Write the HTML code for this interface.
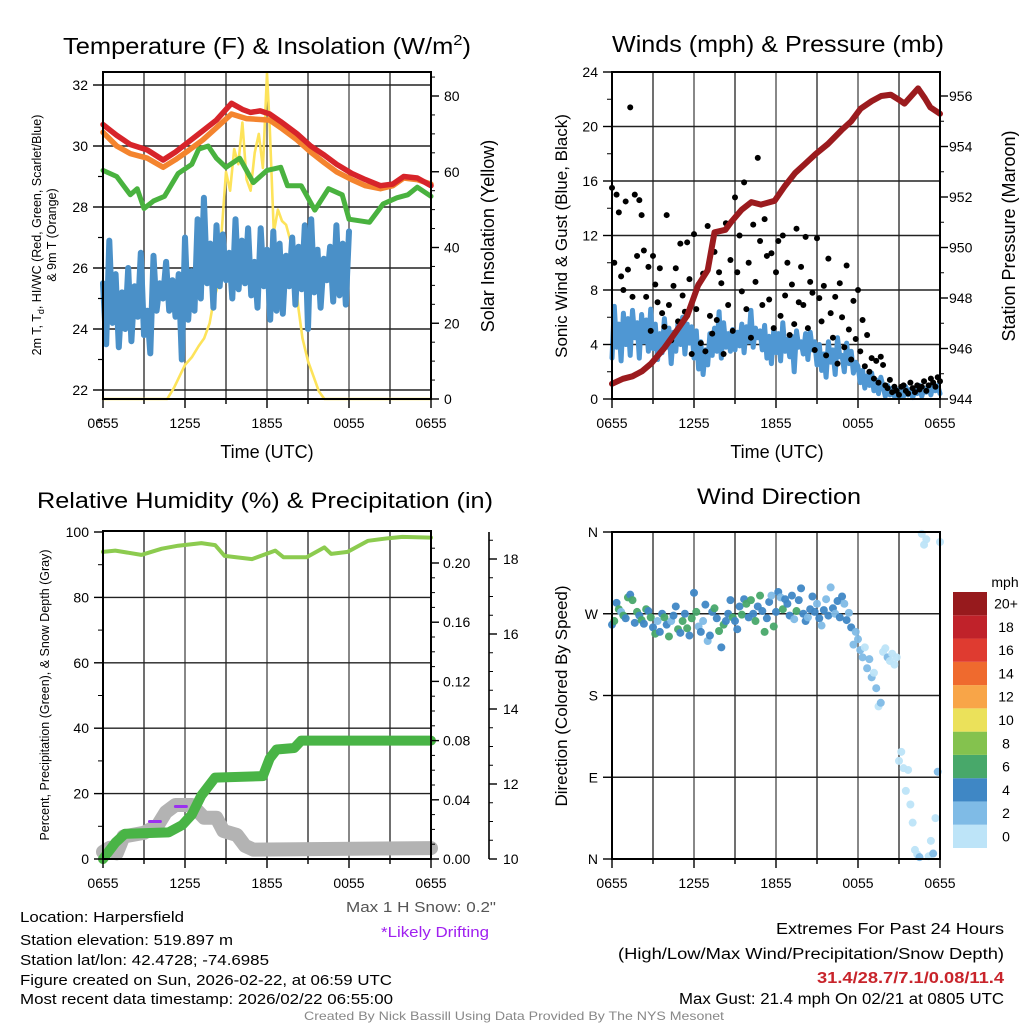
<!DOCTYPE html>
<html><head><meta charset="utf-8"><style>
html,body{margin:0;padding:0;background:#fff;}
svg{display:block;font-family:"Liberation Sans",sans-serif;}
</style></head><body>
<svg id="fig" width="1024" height="1024" viewBox="0 0 1024 1024" xmlns="http://www.w3.org/2000/svg">
<g id="layer"></g>
</svg>
<script>
// ---------- DATA ----------
const xTickLabels = ["0655","1255","1855","0055","0655"];
const tempTickLabels = ["22","24","26","28","30","32"];
const tempTickValues = [22,24,26,28,30,32];
const insolTickValues = [0,20,40,60,80];
const windTickValues = [0,4,8,12,16,20,24];
const presTickValues = [944,946,948,950,952,954,956];
const rhTickValues = [0,20,40,60,80,100];
const precipTickValues = [0,0.04,0.08,0.12,0.16,0.20];
const precipTickLabels = ["0.00","0.04","0.08","0.12","0.16","0.20"];
const snowTickValues = [10,12,14,16,18];
const dirTickLabels = ["N","E","S","W","N"];
const dirTickValues = [0,90,180,270,360];
const speedBinLabels = ["0","2","4","6","8","10","12","14","16","18","20+"];
const speedBinColors = ["#bde4f8","#7fbbe6","#3f87c5","#48a86a","#84c24e","#ebe15a","#f8a548","#ef6a2e","#df3b30","#c0222a","#971a1d"];

const redTimes = [0,1,2,3.25,4.4,5.3,6.25,7.3,8.3,9.4,10.2,10.8,11.5,12.2,13,14.2,15.2,16.2,17.1,18.2,19.2,20.3,21.2,22,23,24];
const redTemp = [30.7,30.35,30.05,29.87,29.54,29.8,30.13,30.5,30.85,31.4,31.2,31.1,31.15,31.05,30.8,30.4,30.0,29.7,29.4,29.1,28.9,28.7,28.75,29.0,28.95,28.7];
const orangeTimes = [0,1,2,3.25,4.4,5.3,6.25,7.3,8.3,9.4,10.5,12.2,13,14.2,15.2,16.2,17.1,18.2,19.2,20.3,21.2,22,23,24];
const orangeTemp = [30.45,30.0,29.75,29.6,29.3,29.55,29.85,30.2,30.6,31.05,30.9,30.85,30.6,30.2,29.8,29.45,29.15,28.9,28.7,28.6,28.7,28.95,28.9,28.75];
const greenTimes = [0,1,2,2.5,3,3.7,4.5,5.5,6.5,7,7.7,8.3,9,10,11,12,13,13.5,14.5,15.5,16.5,17.5,18,19.5,20.5,21.5,22.3,23,24];
const greenTemp = [29.2,29.0,28.4,28.6,27.95,28.2,28.35,29.1,29.4,29.9,30.0,29.6,29.3,29.6,28.8,29.2,29.3,28.7,28.7,27.9,28.6,28.4,27.6,27.5,28.1,28.3,28.4,28.65,28.35];
const blueTemp = [25.5,23.5,26.9,24.2,25.8,23.4,25.2,24.0,26.0,23.6,25.4,24.4,26.5,23.8,24.6,23.2,
 26.4,24.6,25.5,25.0,26.2,24.6,25.6,24.4,
 25.8,23.0,27.0,24.3,25.9,24.6,27.6,25.0,28.3,25.5,26.8,24.7,
 27.4,25.4,27.1,25.6,26.5,25.0,27.6,25.3,26.9,25.5,27.3,25.1,
 26.2,24.7,27.3,25.4,26.6,24.3,27.2,24.6,26.8,24.5,26.4,25.4,
 27.0,24.8,26.7,25.3,27.4,24.0,27.6,25.2,26.6,24.7,26.3,25.6,
 26.7,24.9,27.4,25.1,26.8,24.8,27.2];
const insolTimes = [0,4.7,5.2,5.6,6.0,6.5,7.0,7.4,7.8,8.1,8.4,8.7,9.0,9.3,9.6,9.9,10.2,10.5,10.8,11.1,11.4,11.7,12.0,12.2,12.5,12.8,13.1,13.4,13.7,14.0,14.3,14.6,15.0,15.4,15.8,16.2,24];
const insolValues = [0,0,3,6,9,11,14,16,20,26,30,45,60,55,66,62,73,58,55,65,70,61,86,72,44,50,47,46,42,35,24,16,10,6,2,0,0];

const gustValues = [15.5,10,15,13.7,9,8,14.5,9.5,21.4,7.5,15,10.5,14.6,13.5,10.9,7.5,9.7,5,
 10.5,8.4,7.1,9.6,6.3,5.3,13.5,6.9,4.3,8.3,9.6,5.7,11.4,7.6,6.4,11.5,8.8,3.3,
 12.1,6.6,8.4,4.1,9.2,3.5,12.7,6.1,4.8,10.8,5.8,9.3,8.5,3.3,12.9,6.9,10.2,5.0,
 14.8,9.3,12.0,7.9,15.9,6.6,10.0,4.5,12.8,8.6,17.7,11.6,6.9,13.2,10.5,7.3,10.7,5.2,
 9.3,11.6,6.1,12.0,7.6,10.0,4.7,8.4,5.5,12.5,7.1,9.7,6.9,11.9,5.2,8.6,7.8,3.6,
 11.8,7.4,5.7,8.3,3.2,10.3,6.3,4.5,7.5,2.6,8.5,6.0,3.8,9.8,5.1,2.9,7.2,4.4,
 8.0,3.5,5.8,2.4,4.7,2.0,3.0,1.5,2.8,1.2,3.1,2.5,1.0,0.8,1.4,0.5,0.9,0.6,
 0.3,0.9,1.0,0.6,0.4,1.2,0.8,0.5,1.0,0.7,0.9,1.3,0.6,1.0,1.5,1.2,0.9,1.6,1.3];
const sonicValues = [3,6.8,3.8,5.5,2.8,6.3,4,5.9,3.2,6.5,4.5,5.6,3,6.2,4.2,5.8,3.5,6.6,
 3.7,5.5,2.9,4.8,3.4,5.9,3.8,5.2,2.6,4.9,3.5,5.7,4.0,6.0,3.3,5.5,4.1,5.3,
 3.0,5.0,2.2,4.2,1.8,3.6,2.5,4.8,3.2,5.2,3.5,6.4,3.0,5.6,3.8,4.8,3.5,5.1,
 3.6,4.9,3.9,5.5,3.4,5.3,4.2,6.5,3.8,5.2,4.5,5.0,3.6,5.4,3.0,4.6,2.6,5.0,
 3.4,4.8,2.8,5.6,3.5,4.4,3.1,4.6,2.0,5.0,3.8,4.2,3.3,4.8,2.9,4.9,3.6,4.2,
 2.5,4.0,2.1,3.3,1.6,4.2,2.7,3.6,1.8,4.5,3.1,3.2,2.0,4.1,2.6,3.5,1.9,2.7,
 2.4,1.2,2.1,0.8,1.7,1.0,1.9,0.6,1.4,0.4,1.6,0.9,0.2,1.0,0.3,0.8,0.2,0.7,
 0.1,0.6,0.2,0.9,0.3,0.7,0.1,0.6,0.4,1.0,0.2,0.8,0.5,0.9,0.3,1.1,0.6,1.0,0.4];
const presTimes = [0,0.8,1.5,2.2,2.85,3.8,4.6,5.5,6.3,7.0,7.5,8.3,8.7,9.5,10.2,10.9,11.9,12.6,13.4,14.1,14.9,15.8,16.8,17.5,18.2,19.0,19.7,20.4,21.0,21.4,21.9,22.4,22.9,23.3,24];
const presValues = [944.6,944.8,944.9,945.1,945.4,946.0,946.6,947.3,948.5,949.1,950.6,950.7,951.0,951.5,951.8,951.7,951.85,952.4,952.95,953.3,953.7,954.1,954.65,955.0,955.5,955.8,956.0,956.05,955.85,955.7,956.0,956.3,955.9,955.55,955.3];

const dirValues = [258,262,282,275,272,268,265,288,291,285,260,272,268,263,259,275,273,266,
 255,248,262,250,270,266,258,245,262,268,278,253,249,262,270,254,246,265,
 293,272,256,250,262,280,240,246,272,276,265,251,233,258,262,270,285,266,
 262,253,278,269,286,281,266,285,270,262,278,290,273,250,265,283,290,256,
 272,294,288,275,286,281,268,290,264,273,285,298,270,262,266,275,289,272,
 281,265,257,274,286,268,299,276,270,284,266,289,281,263,271,255,236,250,
 242,230,222,233,210,220,200,205,188,168,172,228,232,222,218,226,214,222,
 108,118,100,75,98,60,40,10,5,2,358,346,352,3,20,6,45,96,349];

const rhTimes = [0,0.9,2.8,4.3,5.5,7.2,8.2,8.9,10.9,12.6,13.2,14.9,16.2,16.7,17.9,19.4,20.9,21.9,24];
const rhValues = [93.9,94.3,93.0,94.9,95.8,96.6,96.0,92.7,91.7,94.3,92.3,92.3,95.3,93.3,93.9,97.3,98.1,98.5,98.3];
const precipTimes = [0,0.9,1.6,4.8,5.8,6.5,7.2,8.2,11.7,12.2,12.7,14.0,14.5,24];
const precipValues = [0,0.011,0.017,0.018,0.023,0.030,0.043,0.055,0.056,0.068,0.074,0.075,0.08,0.08];
const snowTimes = [0,0.5,1,1.5,3,4,4.6,5.3,6.5,7,7.4,8.3,8.8,9.8,10.4,11,24];
const snowValues = [10.19,10.3,10.15,10.6,10.7,10.9,11.25,11.44,11.44,11.25,11.1,11.1,10.75,10.64,10.35,10.25,10.29];
const driftTimes = [[3.4,4.2],[5.3,6.1]];
const driftValues = [11.0,11.4];

// ---------- HELPERS ----------
const NS="http://www.w3.org/2000/svg";
const layer=document.getElementById('layer');
function mk(tag,attrs,parent){const e=document.createElementNS(NS,tag);for(const k in attrs)e.setAttribute(k,attrs[k]);(parent||layer).appendChild(e);return e;}
function txt(str,x,y,size,anchor,extra,parent){const e=mk('text',Object.assign({x:x,y:y,'font-size':size,'text-anchor':anchor||'middle',fill:'#000'},extra||{}),parent);e.textContent=str;return e;}
function linScale(d0,d1,r0,r1){return v=>r0+(v-d0)*(r1-r0)/(d1-d0);}

function frame(x0,x1,y0,y1,name){
  const g=mk('g',{});
  
  
  for(let k=1;k<8;k++){const x=x0+(x1-x0)*k/8;mk('line',{x1:x,x2:x,y1:y0,y2:y1,stroke:k%2?'#333':'#555','stroke-width':1.4},g);}
  return g;
}
function hgrid(g,x0,x1,ys){ys.forEach(y=>mk('line',{x1:x0,x2:x1,y1:y,y2:y,stroke:'#222','stroke-width':1.4},g));}
function border(g,x0,x1,y0,y1){mk('rect',{x:x0,y:y0,width:x1-x0,height:y1-y0,fill:'none',stroke:'#000','stroke-width':2},g);}
function xTicks(g,x0,x1,y1){
  for(let k=0;k<=8;k++){const x=x0+(x1-x0)*k/8;mk('line',{x1:x,x2:x,y1:y1,y2:y1+(k%2?5:9),stroke:'#000','stroke-width':1.4},g);}
  xTickLabels.forEach((l,i)=>{const t=txt(l,x0+(x1-x0)*i/4,y1+29,14,'middle',{},g);
    
    });
}
function pathFrom(xs,ys,sx,sy){return xs.map((t,i)=>(i?'L':'M')+sx(t).toFixed(1)+' '+sy(ys[i]).toFixed(1)).join(' ');}
function line(g,xs,ys,sx,sy,color,w,name){
  const p=mk('path',{d:pathFrom(xs,ys,sx,sy),fill:'none',stroke:color,'stroke-width':w,'stroke-linejoin':'round','stroke-linecap':'round'},g);
  
  
  return p;
}
const idxTimes=(n,step)=>Array.from({length:n},(_,i)=>i*step);

// ---------- PANEL 1 ----------
(function(){
  const x0=103,x1=431,y0=72,y1=399;
  const sx=linScale(0,24,x0,x1), sy=linScale(22,32,390,85), sr=linScale(0,80,399,96);
  const g=frame(x0,x1,y0,y1,'temperature-panel');
  hgrid(g,x0,x1,tempTickValues.map(sy));
  line(g,insolTimes,insolValues,sx,sr,'#fde35a',2.6,'insolation-line');
  line(g,idxTimes(blueTemp.length,18/78),blueTemp,sx,sy,'#4a90c8',6,'wind-chill-line');
  line(g,greenTimes,greenTemp,sx,sy,'#49b23f',5,'dewpoint-line');
  line(g,orangeTimes,orangeTemp,sx,sy,'#f4842e',5.5,'9m-temp-line');
  line(g,redTimes,redTemp,sx,sy,'#d7242a',5.5,'2m-temp-line');
  border(g,x0,x1,y0,y1);
  tempTickValues.forEach((v,i)=>{const y=sy(v);mk('line',{x1:x0-10,x2:x0,y1:y,y2:y,stroke:'#000','stroke-width':1.4},g);
    mk('line',{x1:x0-5,x2:x0,y1:y+30.5,y2:y+30.5,stroke:'#000','stroke-width':1.2,opacity:v<32?1:0},g);
    txt(tempTickLabels[i],x0-15,y+5,14,'end',{},g);});
  insolTickValues.forEach(v=>{const y=sr(v);mk('line',{x1:x1,x2:x1+8,y1:y,y2:y,stroke:'#000','stroke-width':1.4},g);
    txt(String(v),x1+13,y+5,14,'start',{},g);});
  for(let v=5;v<86;v+=5){if(v%20)mk('line',{x1:x1,x2:x1+4,y1:sr(v),y2:sr(v),stroke:'#000','stroke-width':1},g);}
  xTicks(g,x0,x1,y1);
  const ti=txt('',267,54,23,'middle',{textLength:408,lengthAdjust:'spacingAndGlyphs'});
  ti.innerHTML='Temperature (F) &amp; Insolation (W/m<tspan font-size="15" dy="-9">2</tspan><tspan dy="9">)</tspan>';
  
  
  const yl=txt('',0,0,12.5,'middle',{transform:'translate(41,235) rotate(-90)'});
  yl.innerHTML='2m T, T<tspan font-size="9" dy="3">d</tspan><tspan dy="-3">, HI/WC (Red, Green, Scarlet/Blue)</tspan>';
  
  
  const yl2=txt('& 9m T (Orange)',0,0,12.5,'middle',{transform:'translate(56,235) rotate(-90)'});
  
  
  const yr=txt('Solar Insolation (Yellow)',0,0,18,'middle',{transform:'translate(494,236) rotate(-90)'});
  
  
  const xl=txt('Time (UTC)',267,458,18);
  
  
})();

// ---------- PANEL 2 ----------
(function(){
  const x0=612,x1=940,y0=72,y1=399;
  const sx=linScale(0,24,x0,x1), sy=linScale(0,24,399,72), sp=linScale(944,956,399,96);
  const g=frame(x0,x1,y0,y1,'winds-panel');
  hgrid(g,x0,x1,windTickValues.slice(1,6).map(sy));
  line(g,idxTimes(sonicValues.length,1/6),sonicValues,sx,sy,'#4f97d3',5,'sonic-wind-line');
  gustValues.forEach((v,i)=>{const c=mk('circle',{cx:sx(i/6),cy:sy(v),r:3,fill:'#000'},g);
    
    });
  line(g,presTimes,presValues,sx,sp,'#9b1b1e',6,'pressure-line');
  border(g,x0,x1,y0,y1);
  windTickValues.forEach(v=>{const y=sy(v);mk('line',{x1:x0-9,x2:x0,y1:y,y2:y,stroke:'#000','stroke-width':1.4},g);
    if(v<24)mk('line',{x1:x0-5,x2:x0,y1:sy(v+2),y2:sy(v+2),stroke:'#000','stroke-width':1},g);
    txt(String(v),x0-14,y+5,14,'end',{},g);});
  presTickValues.forEach(v=>{const y=sp(v);mk('line',{x1:x1,x2:x1+8,y1:y,y2:y,stroke:'#000','stroke-width':1.4},g);
    if(v<956)mk('line',{x1:x1,x2:x1+4,y1:sp(v+1),y2:sp(v+1),stroke:'#000','stroke-width':1},g);
    txt(String(v),x1+9,y+5,14,'start',{},g);});
  xTicks(g,x0,x1,y1);
  const ti=txt('Winds (mph) & Pressure (mb)',778,52,23,'middle',{textLength:332,lengthAdjust:'spacingAndGlyphs'});
  
  
  const yl=txt('Sonic Wind & Gust (Blue, Black)',0,0,17,'middle',{transform:'translate(567,236) rotate(-90)'});
  
  
  const yr=txt('Station Pressure (Maroon)',0,0,18,'middle',{transform:'translate(1015,236) rotate(-90)'});
  
  
  const xl=txt('Time (UTC)',777,458,18);
  
  
})();

// ---------- PANEL 3 ----------
(function(){
  const x0=103,x1=431,y0=531,y1=859;
  const sx=linScale(0,24,x0,x1), sy=linScale(0,100,859,532), spr=linScale(0,0.2,859,563), ss=linScale(10,18,859,559);
  const g=frame(x0,x1,y0,y1,'humidity-panel');
  hgrid(g,x0,x1,rhTickValues.slice(1,5).map(sy));
  line(g,snowTimes,snowValues,sx,ss,'#b3b3b3',14,'snow-depth-line');
  driftTimes.forEach((tt,i)=>{line(g,tt,[driftValues[i],driftValues[i]],sx,ss,'#9b30f0',3,'drift-marker');});
  line(g,precipTimes,precipValues,sx,spr,'#49b446',10,'precipitation-line');
  line(g,rhTimes,rhValues,sx,sy,'#8ccb4f',4,'relative-humidity-line');
  border(g,x0,x1,y0,y1);
  rhTickValues.forEach(v=>{const y=sy(v);mk('line',{x1:x0-9,x2:x0,y1:y,y2:y,stroke:'#000','stroke-width':1.4},g);
    if(v<100)mk('line',{x1:x0-5,x2:x0,y1:sy(v+10),y2:sy(v+10),stroke:'#000','stroke-width':1},g);
    txt(String(v),x0-14,y+5,14,'end',{},g);});
  precipTickValues.forEach((v,i)=>{const y=spr(v);mk('line',{x1:x1,x2:x1+8,y1:y,y2:y,stroke:'#000','stroke-width':1.4},g);
    txt(precipTickLabels[i],x1+12,y+5,14,'start',{},g);});
  for(let v=0.01;v<0.215;v+=0.01){if(Math.round(v*100)%4)mk('line',{x1:x1,x2:x1+4,y1:spr(v),y2:spr(v),stroke:'#000','stroke-width':1},g);}
  mk('line',{x1:489,x2:489,y1:532,y2:859,stroke:'#000','stroke-width':1.6},g);
  snowTickValues.forEach(v=>{const y=ss(v);mk('line',{x1:489,x2:497,y1:y,y2:y,stroke:'#000','stroke-width':1.4},g);
    txt(String(v),503,y+5,14,'start',{},g);});
  for(let v=10.5;v<18.7;v+=0.5){if(v%2)mk('line',{x1:489,x2:493,y1:ss(v),y2:ss(v),stroke:'#000','stroke-width':1},g);}
  xTicks(g,x0,x1,y1);
  const ti=txt('Relative Humidity (%) & Precipitation (in)',265,508,22,'middle',{textLength:456,lengthAdjust:'spacingAndGlyphs'});
  
  
  const yl=txt('Percent, Precipitation (Green), & Snow Depth (Gray)',0,0,12.5,'middle',{transform:'translate(49,695) rotate(-90)'});
  
  
  const ms=txt('Max 1 H Snow: 0.2"',496,912,15,'end',{fill:'#555',textLength:150,lengthAdjust:'spacingAndGlyphs'});
  
  
  const ld=txt('*Likely Drifting',489,937,15,'end',{fill:'#a020f0',textLength:108,lengthAdjust:'spacingAndGlyphs'});
  
  
})();

// ---------- PANEL 4 ----------
(function(){
  const x0=612,x1=940,y0=532,y1=859;
  const sx=linScale(0,24,x0,x1), sd=linScale(0,360,859,532);
  const g=frame(x0,x1,y0,y1,'wind-direction-panel');
  hgrid(g,x0,x1,[90,180,270].map(sd));
  function binColor(s){let b=Math.floor((s+1)/2);if(b>10)b=10;if(b<0)b=0;return speedBinColors[b];}
  dirValues.forEach((d,i)=>{const c=mk('circle',{cx:sx(i/6),cy:sd(d),r:4,fill:binColor(sonicValues[i]),opacity:0.95},g);
    
    });
  border(g,x0,x1,y0,y1);
  dirTickValues.forEach((v,i)=>{const y=sd(v);mk('line',{x1:x0-9,x2:x0,y1:y,y2:y,stroke:'#000','stroke-width':1.4},g);
    txt(dirTickLabels[i],x0-14,y+5,14,'end',{},g);});
  xTicks(g,x0,x1,y1);
  const ti=txt('Wind Direction',779,504,22,'middle',{textLength:164,lengthAdjust:'spacingAndGlyphs'});
  
  
  const yl=txt('Direction (Colored By Speed)',0,0,17,'middle',{transform:'translate(567,696) rotate(-90)'});
  
  
  const cb=mk('g',{});
  
  
  const h=256/11;
  speedBinColors.forEach((c,i)=>{const y=848-(i+1)*h;mk('rect',{x:953,y:y,width:34,height:h,fill:c},cb);
    txt(speedBinLabels[i],1006,y+h/2+5,14,'middle',{},cb);});
  txt('mph',1005,587,14,'middle',{},cb);
})();

// ---------- FOOTER ----------
(function(){
  const info=[['Location: Harpersfield',922,164],['Station elevation: 519.897 m',945,213],['Station lat/lon: 42.4728; -74.6985',965,249],['Figure created on Sun, 2026-02-22, at 06:59 UTC',985,372],['Most recent data timestamp: 2026/02/22 06:55:00',1004,373]];
  info.forEach(r=>{const t=txt(r[0],20,r[1],15,'start',{textLength:r[2],lengthAdjust:'spacingAndGlyphs'});
    
    });
  const ex=[['Extremes For Past 24 Hours',934,228,'#000','normal'],['(High/Low/Max Wind/Precipitation/Snow Depth)',959,386,'#000','normal'],['31.4/28.7/7.1/0.08/11.4',983,187,'#c8242b','bold'],['Max Gust: 21.4 mph On 02/21 at 0805 UTC',1004,325,'#000','normal']];
  ex.forEach(r=>{const t=txt(r[0],1004,r[1],15.5,'end',{textLength:r[2],lengthAdjust:'spacingAndGlyphs',fill:r[3],'font-weight':r[4]});
    
    });
  const cr=txt('Created By Nick Bassill Using Data Provided By The NYS Mesonet',514,1020,12,'middle',{fill:'#888',textLength:420,lengthAdjust:'spacingAndGlyphs'});
  
  
})();
</script>
</body></html>
